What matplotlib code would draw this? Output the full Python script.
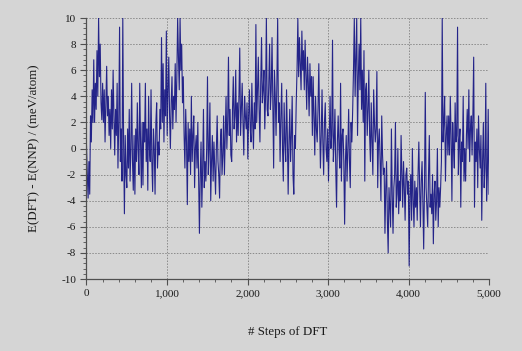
import numpy as np
import matplotlib.pyplot as plt
from matplotlib.ticker import MultipleLocator, FuncFormatter

# energy difference E(DFT) - E(NNP) in meV/atom
# (10 readings per 100 DFT steps)
dft_minus_nnp = [
    0.2, -2.0, -3.8, -1.0, -3.5, 2.5, 0.5, 4.5, 2.0, 6.8,
    2.0, 5.0, 3.0, 7.5, 4.0, 10.0, 5.5, 8.0, 3.5, 2.2,
    5.0, 2.0, 4.5, 0.5, 3.5, 6.3, 2.5, 4.0, 1.0, 3.0,
    0.0, 4.5, 1.5, 6.0, 2.5, -0.5, 3.0, 1.0, 5.0, -1.5,
    2.0, 9.3, -1.0, 1.5, -2.5, 10.0, 0.5, -5.0, 1.0, -2.0,
    -3.0, 1.5, -1.5, 3.0, -2.5, 0.0, 5.0, -1.0, -3.2, 1.0,
    -3.5, 1.5, -1.0, 3.5, 0.0, -2.0, 5.0, 0.5, -3.0, 2.0,
    -2.8, 2.0, 0.5, 5.0, -1.0, 1.5, -3.2, 4.0, 0.0, -1.0,
    4.5, -1.0, -3.3, 1.5, 0.0, -3.5, 2.0, 3.5, -1.5, 0.5,
    -0.5, 3.0, 1.5, 8.5, 2.0, 6.5, 0.5, 4.5, 2.5, 9.0,
    1.0, 4.5, 7.0, 2.5, 0.0, 3.5, 5.5, 1.5, 4.0, 3.0,
    6.5, 2.0, 5.5, 10.0, 7.0, 4.5, 10.0, 6.0, 8.0, 3.5,
    5.5, 1.0, -1.5, 3.0, 0.5, -4.3, 2.0, -1.0, 1.5, -2.0,
    4.0, -1.0, 1.0, 2.5, -3.0, 0.0, 1.0, -1.5, 2.0, -2.5,
    -6.5, -2.0, 0.5, -4.5, -1.5, 3.0, -3.0, -1.0, -2.5, 0.0,
    5.5, -2.0, 0.0, 3.5, -4.0, -1.0, 1.0, -2.5, 0.5, -1.5,
    -3.5, 0.0, 2.5, -1.0, -2.0, -3.8, 0.5, 1.5, -2.0, -0.5,
    2.5, -2.0, 1.0, 4.0, 0.0, 2.0, 7.0, 1.0, 3.0, -0.5,
    -1.0, 3.0, 5.5, 1.5, 2.5, 6.0, 0.5, 3.5, 1.0, 4.0,
    7.7, 1.0, 3.0, 5.0, 2.0, -0.5, 4.0, 2.5, 1.5, 3.5,
    -0.8, 2.5, 4.5, 1.5, 0.5, 5.0, 2.0, 0.0, 3.5, 1.5,
    9.5, 2.0, 4.5, 7.0, 3.0, 0.5, 5.0, 8.5, 3.5, 4.5,
    6.0, 1.5, 4.0, 10.0, 3.0, 2.5, 5.0, 8.0, 3.0, 4.5,
    8.5, 3.5, -1.5, 6.0, 4.0, 1.0, 5.0, 10.0, 2.0, 3.5,
    -1.0, 2.5, 5.0, 0.0, -2.5, 3.5, 0.5, -1.0, 4.5, 1.0,
    -3.5, 0.5, 3.0, -1.0, 1.0, 4.0, -2.0, -3.5, 1.0, 0.0,
    3.5, 6.0, 10.0, 5.5, 8.5, 6.5, 4.5, 9.0, 6.0, 7.5,
    4.5, 8.3, 5.5, 3.0, 7.0, 5.0, 2.5, 6.5, 4.0, 5.5,
    1.0, 5.5, 2.5, -0.5, 4.0, 1.5, 0.5, 3.0, 6.5, 2.0,
    -1.5, 1.0, 4.5, 0.5, -2.0, 2.0, 3.5, 0.0, -1.0, 1.5,
    -2.5, 1.0, 4.0, 0.0, 1.0, 8.3, -1.0, 0.5, 3.0, -1.5,
    -4.5, 0.5, 2.5, 0.0, -1.5, 5.0, -2.5, 1.0, 1.5, -1.0,
    -5.8, -1.0, 1.0, -2.5, 0.0, 3.0, -1.0, -3.0, 2.0, 0.5,
    3.0, 6.0, 10.0, 4.0, 7.0, 10.0, 1.0, 5.5, 8.0, 4.5,
    10.0, 3.0, 6.0, 2.0, 7.5, -2.5, 4.5, 5.0, 1.0, 3.0,
    6.0, 1.0, -1.0, 3.5, 0.5, -2.0, 4.5, 2.0, 0.5, 1.5,
    5.9, -3.0, 0.5, 1.5, -1.0, -4.0, 2.5, -0.5, -2.0, -1.5,
    -6.5, -3.0, -1.0, -5.5, -8.0, -3.0, -4.5, -6.0, 1.5, -3.5,
    -6.5, -3.0, -2.0, 2.0, -4.5, -3.5, 0.0, -5.0, -2.5, -4.0,
    1.0, -2.0, -4.5, -1.0, -3.0, -5.5, -2.0, -1.5, -3.5, -2.5,
    -9.0, -3.5, -2.0, -5.5, 0.0, -4.0, -6.0, -2.5, -4.5, -3.0,
    -5.5, -2.0, 0.5, -3.0, -6.0, -2.5, -1.0, -4.0, -7.7, -3.0,
    4.3, -3.0, -4.5, -6.0, -2.0, 1.0, -4.5, -3.5, -5.0, -2.0,
    -7.3, -3.5, -2.5, -5.5, -4.0, 0.0, -6.0, -3.0, -4.5, -3.0,
    -1.0, 10.0, 0.5, 2.0, 4.0, -2.5, 1.0, 2.5, -0.5, 2.5,
    -0.5, 4.0, 1.0, -4.0, 2.0, 0.0, -1.5, 3.5, 0.5, 1.0,
    9.3, -2.0, 0.5, 1.5, -4.5, 0.5, -1.0, 4.0, -2.5, 0.0,
    -2.5, 1.0, 3.0, 0.0, 4.5, -1.0, 1.5, 2.5, -0.5, 2.5,
    7.0, -4.5, 0.5, -1.0, 1.5, -3.0, 2.5, 0.0, -1.5, 1.0,
    -5.5, -1.0, 2.0, -3.0, -1.5, 5.0, -4.0, -2.0, 3.0, -3.5,
]
total_steps = 5000
steps = np.linspace(0, total_steps, len(dft_minus_nnp))

bg = "#d5d5d5"
serif = ["Liberation Serif", "DejaVu Serif"]

fig = plt.figure(figsize=(5.22, 3.51), dpi=100, facecolor=bg)
ax = fig.add_axes([0.1657, 0.2051, 0.7711, 0.7436], facecolor=bg)

ax.plot(steps, dft_minus_nnp, color="#05057c", lw=0.8, alpha=0.85)

ax.set_xlim(0, 5000)
ax.set_ylim(-10, 10)
ax.xaxis.set_major_locator(MultipleLocator(1000))
ax.xaxis.set_minor_locator(MultipleLocator(200))
ax.yaxis.set_major_locator(MultipleLocator(2))
ax.yaxis.set_minor_locator(MultipleLocator(0.4))
ax.xaxis.set_major_formatter(FuncFormatter(lambda v, p: f"{int(v):,}"))
ax.yaxis.set_major_formatter(FuncFormatter(lambda v, p: f"{int(v)}"))

ax.grid(True, which="major", color="#8a8a8a", linestyle=(0, (1.5, 1.5)), lw=0.7)
for s in ["top", "right"]:
    ax.spines[s].set_visible(False)
for s in ["left", "bottom"]:
    ax.spines[s].set_color("#505050")
    ax.spines[s].set_linewidth(0.9)
ax.tick_params(which="major", length=4, color="#505050", width=0.8)
ax.tick_params(which="minor", length=2, color="#505050", width=0.6)
for lab in ax.get_xticklabels() + ax.get_yticklabels():
    lab.set_family(serif)
    lab.set_fontsize(8)
    lab.set_color("#1a1a1a")

ax.set_xlabel("# Steps of DFT", family=serif, fontsize=9.3, color="#1a1a1a", labelpad=20)
ax.set_ylabel("E(DFT) - E(NNP) / (meV/atom)", family=serif, fontsize=9.3, color="#1a1a1a", labelpad=15)

fig.savefig("out.png", dpi=100, facecolor=bg)
